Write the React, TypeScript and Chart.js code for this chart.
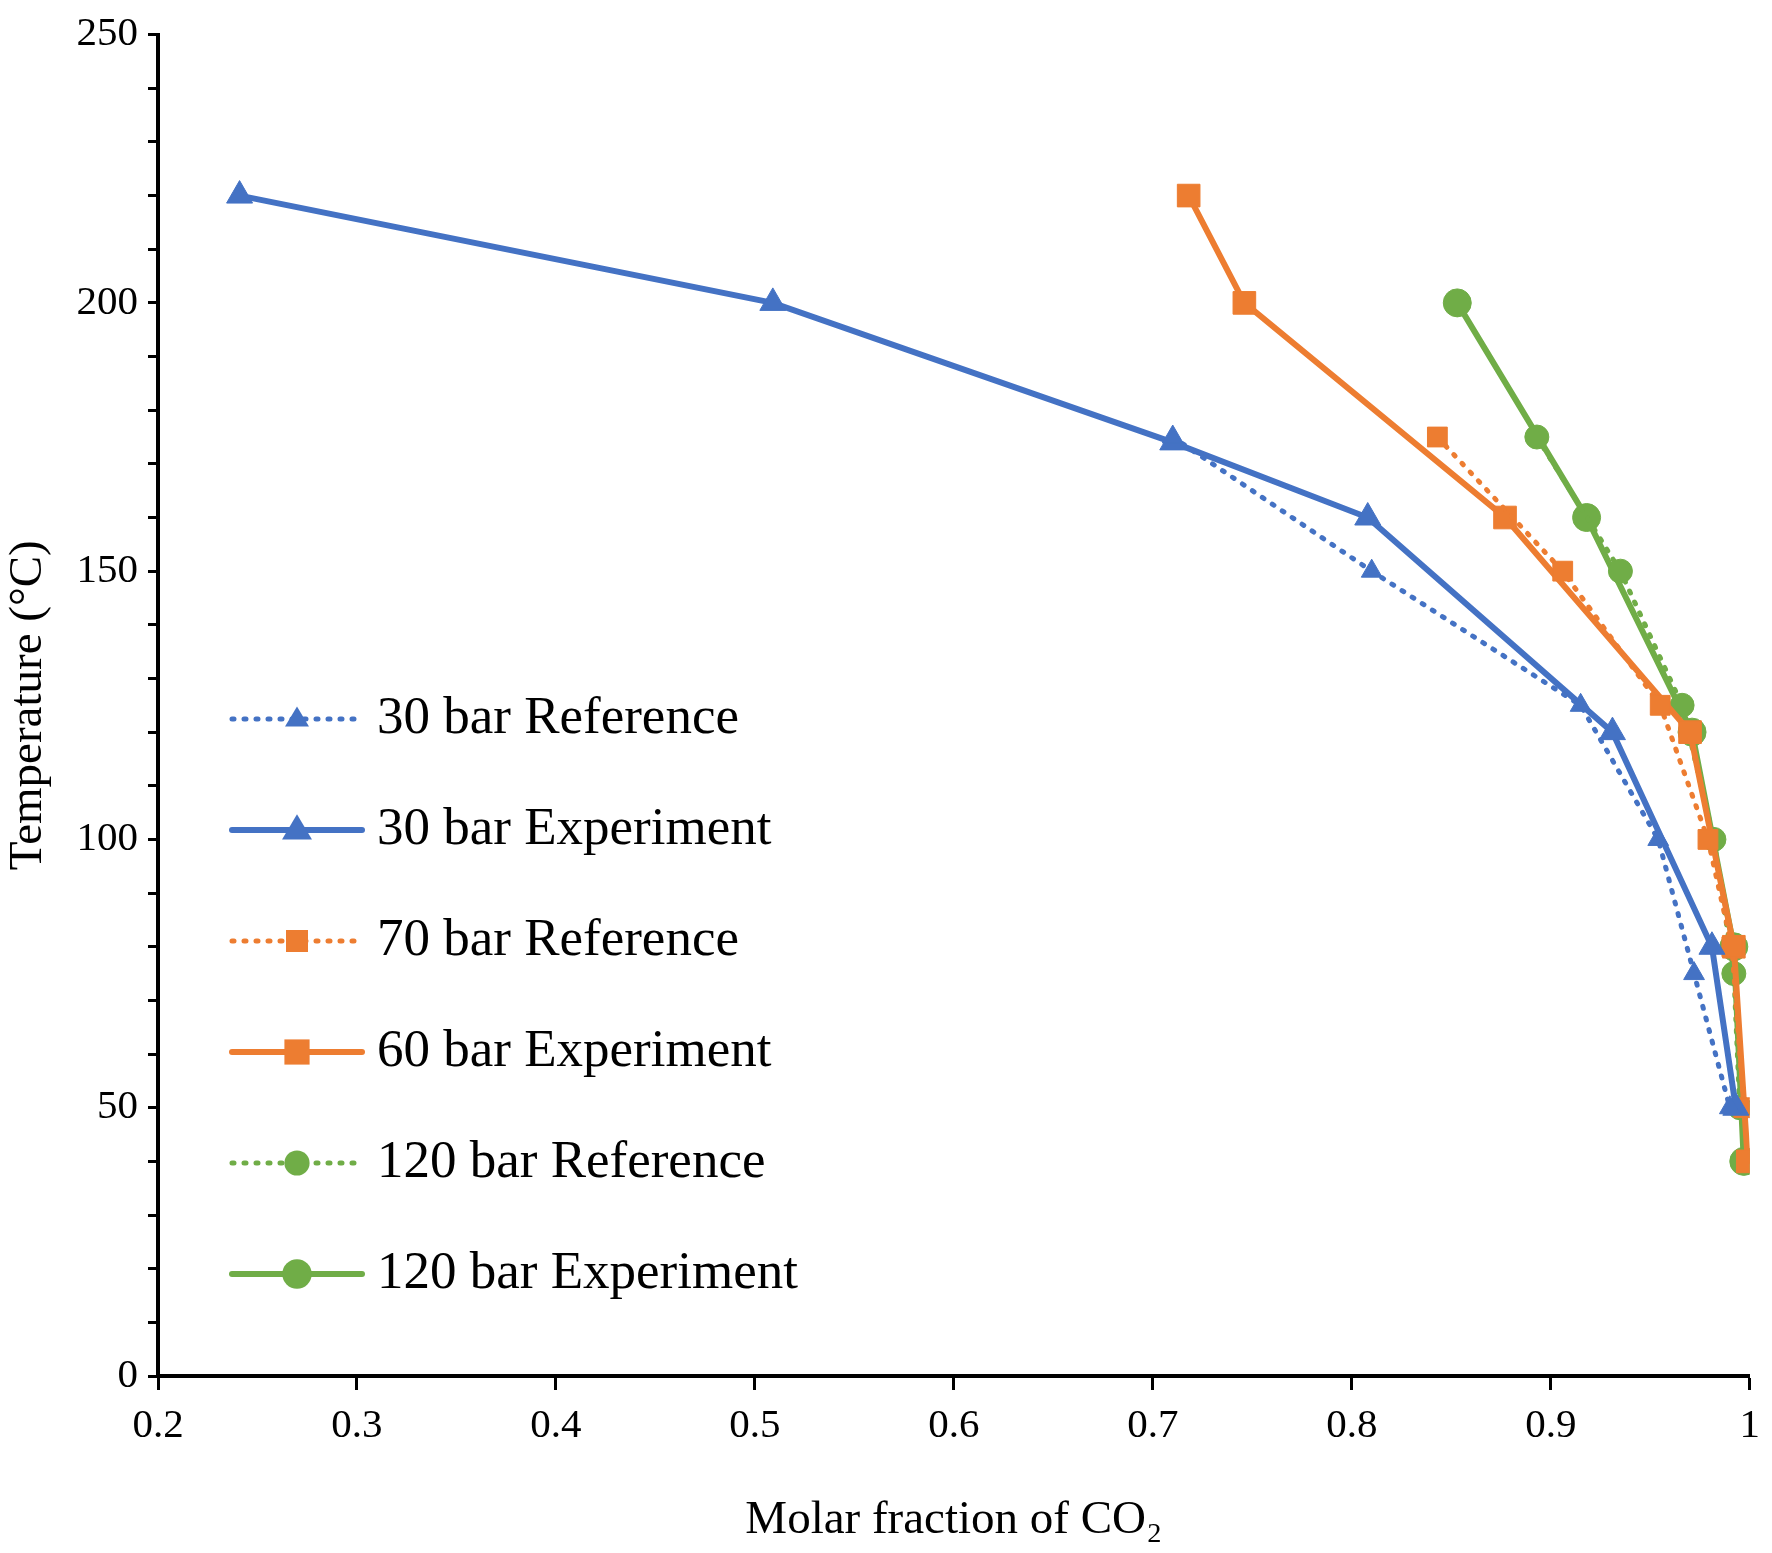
import React, { useEffect, useRef } from "react";
import { Chart, registerables } from "chart.js";
Chart.register(...registerables);

const BLUE = "#4472C4", ORANGE = "#ED7D31", GREEN = "#70AD47";
const ref30X = [0.71, 0.81, 0.915, 0.954, 0.972, 0.99];
const ref30Y = [175, 150, 125, 100, 75, 50];
const exp30X = [0.241, 0.509, 0.71, 0.808, 0.931, 0.981, 0.993];
const exp30Y = [220, 200, 174, 160, 120, 80, 50];
const ref70X = [0.843, 0.906, 0.955, 0.979, 0.991, 0.997];
const ref70Y = [175, 150, 125, 100, 80, 50];
const exp60X = [0.718, 0.746, 0.877, 0.97, 0.992, 0.999];
const exp60Y = [220, 200, 160, 120, 80, 40];
const ref120X = [0.893, 0.935, 0.966, 0.982, 0.992, 0.995];
const ref120Y = [175, 150, 125, 100, 75, 50];
const exp120X = [0.853, 0.918, 0.971, 0.992, 0.997];
const exp120Y = [200, 160, 120, 80, 40];

const pts = (xs: number[], ys: number[]) => xs.map((x, i) => ({ x, y: ys[i] }));
const FONT = "'Liberation Serif', 'Times New Roman', serif";

export default function App() {
  const ref = useRef<HTMLCanvasElement>(null);
  useEffect(() => {
    const mk = (label: string, xs: number[], ys: number[], color: string, style: string, dotted: boolean, r: number) => ({
      label, data: pts(xs, ys), borderColor: color, backgroundColor: color,
      borderWidth: dotted ? 5 : 6, borderDash: dotted ? [2, 10] : [], borderCapStyle: "round",
      pointStyle: style, pointRadius: r, pointBorderWidth: 1, showLine: true, tension: 0,
    });
    const datasets: any[] = [
      mk("30 bar Reference", ref30X, ref30Y, BLUE, "triangle", true, 12),
      mk("30 bar Experiment", exp30X, exp30Y, BLUE, "triangle", false, 15),
      mk("70 bar Reference", ref70X, ref70Y, ORANGE, "rect", true, 14),
      mk("60 bar Experiment", exp60X, exp60Y, ORANGE, "rect", false, 16),
      mk("120 bar Reference", ref120X, ref120Y, GREEN, "circle", true, 12),
      mk("120 bar Experiment", exp120X, exp120Y, GREEN, "circle", false, 14),
    ];
    const legendPlugin = {
      id: "innerLegend",
      afterDatasetsDraw(chart: any) {
        const ctx = chart.ctx;
        const x0 = 232, y0 = 719, gap = 111;
        chart.data.datasets.forEach((d: any, i: number) => {
          const y = y0 + i * gap;
          ctx.save();
          ctx.strokeStyle = d.borderColor;
          ctx.lineWidth = d.borderWidth;
          ctx.lineCap = "round";
          ctx.setLineDash(d.borderDash);
          ctx.beginPath(); ctx.moveTo(x0, y); ctx.lineTo(x0 + 130, y); ctx.stroke();
          ctx.setLineDash([]);
          ctx.fillStyle = d.backgroundColor;
          const cx = x0 + 65, r = d.pointRadius * 1.05;
          ctx.beginPath();
          if (d.pointStyle === "triangle") {
            ctx.moveTo(cx, y - r); ctx.lineTo(cx + r * 0.95, y + r * 0.6); ctx.lineTo(cx - r * 0.95, y + r * 0.6); ctx.closePath();
          } else if (d.pointStyle === "rect") {
            ctx.rect(cx - r * 0.75, y - r * 0.75, r * 1.5, r * 1.5);
          } else ctx.arc(cx, y, r, 0, Math.PI * 2);
          ctx.fill();
          ctx.fillStyle = "#000";
          ctx.font = `53px ${FONT}`;
          ctx.textBaseline = "middle";
          ctx.fillText(d.label, x0 + 145, y);
          ctx.restore();
        });
      },
    };
    const chart = new Chart(ref.current!, {
      type: "scatter",
      data: { datasets },
      plugins: [legendPlugin],
      options: {
        animation: false, responsive: false,
        layout: { padding: { top: 4, right: 6 } },
        plugins: { legend: { display: false }, tooltip: { enabled: false } },
        scales: {
          x: {
            type: "linear", min: 0.2, max: 1,
            ticks: { stepSize: 0.1, color: "#000", font: { family: FONT, size: 41 }, padding: 12,
              callback: (v: any) => (Math.abs(v - 1) < 1e-9 ? "1" : Number(v).toFixed(1)) },
            grid: { drawOnChartArea: false, tickLength: 14, tickColor: "#000", tickWidth: 3 },
            border: { color: "#000", width: 4 },
            title: { display: true, text: "Molar fraction of CO\u2082", color: "#000", font: { family: FONT, size: 47 }, padding: { top: 30 } },
            afterFit: (s: any) => { s.height = 177; },
          },
          y: {
            min: 0, max: 250,
            ticks: { stepSize: 10, color: "#000", font: { family: FONT, size: 41 }, padding: 10,
              callback: (v: any) => (v % 50 === 0 ? String(v) : "") },
            grid: { drawOnChartArea: false, tickLength: 10, tickColor: "#000", tickWidth: 3 },
            border: { color: "#000", width: 4 },
            title: { display: true, text: "Temperature (°C)", color: "#000", font: { family: FONT, size: 47 }, padding: 0 },
            afterFit: (s: any) => { s.width = 158; },
          },
        },
      } as any,
    });
    return () => chart.destroy();
  }, []);
  return (
    <div style={{ position: "absolute", left: 0, top: 0, width: 1772, height: 1553, background: "#fff" }}>
      <canvas ref={ref} width={1772} height={1553} style={{ width: 1772, height: 1553 }} />
    </div>
  );
}
